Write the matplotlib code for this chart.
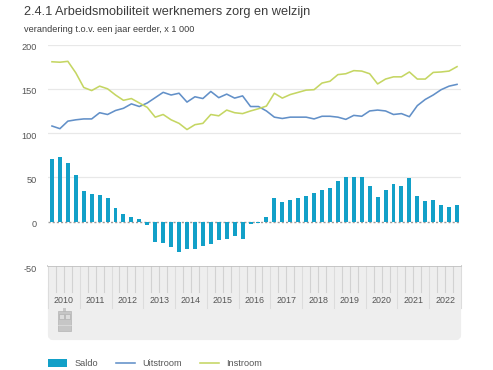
import numpy as np
import matplotlib.pyplot as plt
from matplotlib.patches import FancyBboxPatch, Rectangle
from matplotlib.transforms import ScaledTranslation

plt.rcParams['font.family'] = ['Liberation Sans', 'DejaVu Sans']
plt.rcParams['axes.unicode_minus'] = False

# --- Data, one value per quarter from 2010 to 2022 ---
years = list(range(2010, 2023))
y_ticks = [-50, 0, 50, 100, 150, 200]

saldo = [71, 73, 66, 52.5, 35, 31, 30, 27, 16, 9, 5.6, 2.6,
         -4, -22.5, -24, -28, -34, -31, -31, -27, -25, -21, -19, -16,
         -20, -3, -2, 5, 27, 22, 25, 27, 29, 32, 36, 38,
         46.5, 50, 50, 50, 40.5, 28, 36, 42, 40, 49, 29, 23, 24.5, 18.5, 17, 19]
uitstroom = [108, 105, 113.5, 115, 116, 116, 123, 121, 125.5, 128, 133, 130,
             134, 140, 146, 143, 145, 135, 141, 139, 147, 140, 144, 139.5,
             142, 130, 130, 125, 118, 116.5, 118, 118, 118, 116, 119, 119,
             118, 115.5, 120, 119, 125, 126, 125, 121, 122, 118.5, 131, 138, 143, 149, 153, 155]
instroom = [180.5, 180, 181, 168, 151.5, 148, 153, 150, 143, 137, 139, 134,
            129, 118, 121, 115, 111, 104, 109.5, 111, 121, 119.5, 126, 123,
            122, 125, 127.5, 130.5, 145, 139.5, 143.5, 146, 148.5, 149, 156.5, 158.5,
            166, 167, 170.5, 170, 167, 155.5, 161, 163.5, 163.5, 169, 161, 161, 168.5, 169, 170, 175]

W, H = 493, 370
fig = plt.figure(figsize=(W / 100, H / 100), dpi=100)

# axes box in pixels: x 48..461, y 44.5 (200) .. 266 (-50)
ax = fig.add_axes([48 / W, 1 - 266 / H, 413 / W, 221.5 / H])
x = np.arange(len(saldo)) + 0.5

ax.set_xlim(0, 52)
ax.set_ylim(-50, 200)
for t in y_ticks[2:]:
    ax.axhline(t, color='#e8e8e8', linewidth=0.9, zorder=1)

ax.axhline(0, color='#999999', linewidth=1.0, linestyle=(0, (1.5, 1.5)), zorder=1.5)
ax.bar(x, saldo, width=0.5, color='#12a0c8', zorder=2)
ax.plot(x, uitstroom, color='#6290c8', linewidth=1.15, zorder=3)
ax.plot(x, instroom, color='#c5d663', linewidth=1.15, zorder=3)

ax.set_yticks(y_ticks)
ax.set_xticks([])
ax.tick_params(axis='y', length=0, labelsize=6.6, labelcolor='#555555', pad=8)
# tick labels sit a little under their grid lines
label_shift = ScaledTranslation(0, -1.5 / 72, fig.dpi_scale_trans)
for lab in ax.get_yticklabels():
    lab.set_transform(lab.get_transform() + label_shift)
for s in ax.spines.values():
    s.set_visible(False)

# --- time navigator below the plot ---
nav = fig.add_axes([0, 0, 1, 1], zorder=-1)
nav.set_xlim(0, W)
nav.set_ylim(H, 0)
nav.axis('off')
nav.add_patch(FancyBboxPatch((50, 285), 409, 53, boxstyle='round,pad=0,rounding_size=3',
                             facecolor='#eeeeee', edgecolor='#eeeeee', linewidth=3))
nav.add_patch(Rectangle((48, 266), 413, 30, facecolor='#eeeeee', edgecolor='none'))
year_w = 413 / len(years)
for i, yr in enumerate(years):
    x0 = 48 + i * year_w
    nav.plot([x0, x0], [266, 308], color='#dcdcdc', linewidth=0.8)
    for q in (1, 2, 3):
        xq = x0 + q * year_w / 4
        nav.plot([xq, xq], [266, 292], color='#d2d2d2', linewidth=0.8)
    nav.text(x0 + year_w / 2, 300.5, str(yr), ha='center', va='center', fontsize=6.4, color='#555555')
nav.plot([461, 461], [266, 308], color='#dcdcdc', linewidth=0.8)
nav.plot([48, 461], [266, 266], color='#c0c0c0', linewidth=1.2)

# little handle icon in the navigator
nav.add_patch(Rectangle((62.5, 308), 3, 4, facecolor='#c8c8c8', edgecolor='none'))
nav.add_patch(Rectangle((57.5, 311), 13.5, 20, facecolor='#c6c6c6', edgecolor='#b4b4b4', linewidth=0.5))
nav.add_patch(Rectangle((59, 314), 4.5, 5, facecolor='#dcdcdc', edgecolor='#aaaaaa', linewidth=0.4))
nav.add_patch(Rectangle((65, 314), 4.5, 5, facecolor='#dcdcdc', edgecolor='#aaaaaa', linewidth=0.4))
nav.plot([57.5, 71], [325, 325], color='#dcdcdc', linewidth=0.6)

# legend
nav.add_patch(Rectangle((48, 359), 19, 8, facecolor='#12a0c8', edgecolor='none'))
nav.text(75, 363.5, 'Saldo', va='center', fontsize=6.6, color='#555555')
nav.plot([116, 135], [363, 363], color='#6290c8', linewidth=1.15)
nav.text(142.5, 363.5, 'Uitstroom', va='center', fontsize=6.6, color='#555555')
nav.plot([200, 219], [363, 363], color='#c5d663', linewidth=1.15)
nav.text(226.5, 363.5, 'Instroom', va='center', fontsize=6.6, color='#555555')

# titles
nav.text(24, 12, '2.4.1 Arbeidsmobiliteit werknemers zorg en welzijn', va='center',
         fontsize=9.2, color='#3c3c3c')
nav.text(24, 29, 'verandering t.o.v. een jaar eerder, x 1 000', va='center',
         fontsize=6.6, color='#3c3c3c')

fig.savefig('out.png', dpi=100)
